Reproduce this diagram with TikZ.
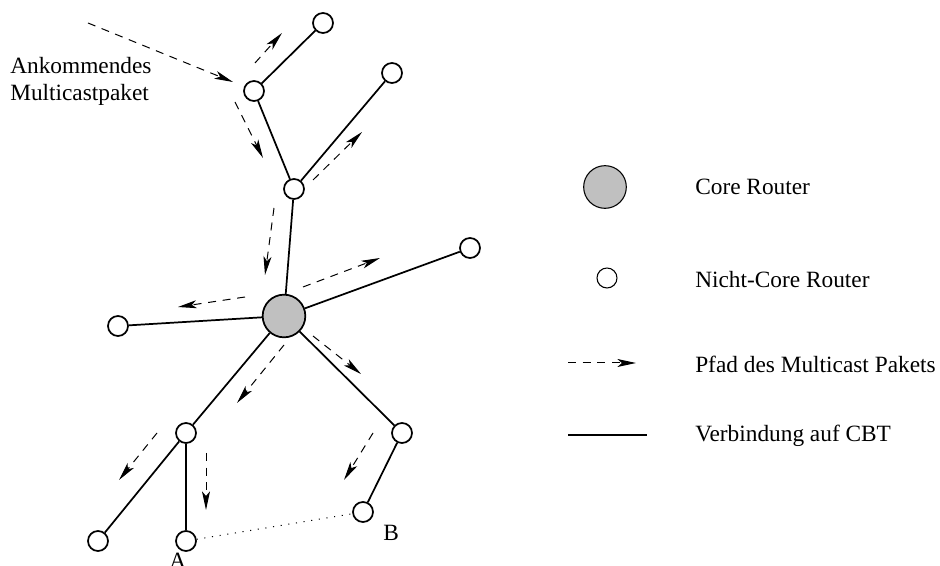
\documentclass[tikz,border=0pt]{standalone}
\usepackage{fontspec}
\setmainfont{Liberation Serif}
\usetikzlibrary{arrows.meta}
\definecolor{coregray}{RGB}{192,192,192}
\begin{document}
\begin{tikzpicture}[x=0.75pt,y=-0.75pt,
  router/.style={circle,draw,line width=1.3pt,fill=white,minimum size=15pt,inner sep=0pt},
  corerouter/.style={circle,draw,line width=1.3pt,fill=coregray,minimum size=32pt,inner sep=0pt},
  legrouter/.style={circle,draw,line width=0.8pt,inner sep=0pt},
  link/.style={line width=1.3pt},
  pkt/.style={dash pattern=on 6pt off 5pt,line width=0.75pt,-{Stealth[length=14pt,width=6pt,inset=3.5pt]}},
  weak/.style={dash pattern=on 0.8pt off 5pt,line width=0.8pt},
  lbl/.style={font=\fontsize{17.5}{21}\selectfont,anchor=base west,inner sep=0pt}
]
\useasboundingbox (0,0) rectangle (940,566);

% routers
\node[router] (n1) at (323,23) {};
\node[router] (n2) at (254,91) {};
\node[router] (n3) at (392,73) {};
\node[router] (n4) at (294,189) {};
\node[corerouter] (core) at (284,316) {};
\node[router] (r) at (470,248) {};
\node[router] (l) at (118,326) {};
\node[router] (bl) at (186,433) {};
\node[router] (br) at (402,433) {};
\node[router] (bll) at (98,541) {};
\node[router] (A) at (186,541) {};
\node[router] (B) at (363,512) {};

% CBT links
\draw[link] (n2) -- (n1);
\draw[link] (n2) -- (n4);
\draw[link] (n4) -- (n3);
\draw[link] (n4) -- (core);
\draw[link] (core) -- (l);
\draw[link] (core) -- (r);
\draw[link] (core) -- (bl);
\draw[link] (core) -- (br);
\draw[link] (bl) -- (bll);
\draw[link] (bl) -- (A);
\draw[link] (br) -- (B);
\draw[weak] (A) -- (B);

% packet path coordinates
\coordinate (p0s) at (88,23);   \coordinate (p0e) at (233,82);
\coordinate (p1s) at (255,63);  \coordinate (p1e) at (282,33);
\coordinate (p2s) at (235,102); \coordinate (p2e) at (263,158);
\coordinate (p3s) at (313,180); \coordinate (p3e) at (362,132);
\coordinate (p4s) at (274,208); \coordinate (p4e) at (265,275);
\coordinate (p5s) at (245,297); \coordinate (p5e) at (178,307);
\coordinate (p6s) at (303,287); \coordinate (p6e) at (380,258);
\coordinate (p7s) at (284,345); \coordinate (p7e) at (237,403);
\coordinate (p8s) at (313,336); \coordinate (p8e) at (361,374);
\coordinate (p9s) at (157,433); \coordinate (p9e) at (119,480);
\coordinate (p10s) at (206,453); \coordinate (p10e) at (206,510);
\coordinate (p11s) at (373,433); \coordinate (p11e) at (344,480);
\foreach \i in {0,...,11} { \draw[pkt] (p\i s) -- (p\i e); }

% labels
\node[lbl] (t1) at (10,74) {Ankommendes};
\node[lbl] (t2) at (10,101) {Multicastpaket};
\node[lbl] (tA) at (169,569) {A};
\node[lbl] (tB) at (383,541) {B};

% legend
\node[legrouter,fill=coregray,minimum size=32pt] (lg1) at (605,187) {};
\node[legrouter,minimum size=15pt] (lg2) at (607,278) {};
\coordinate (lg3s) at (568,363); \coordinate (lg3e) at (636,363);
\draw[pkt] (lg3s) -- (lg3e);
\coordinate (lg4s) at (568,435); \coordinate (lg4e) at (647,435);
\draw[link] (lg4s) -- (lg4e);
\node[lbl] (c1) at (695,195) {Core Router};
\node[lbl] (c2) at (695,288) {Nicht-Core Router};
\node[lbl] (c3) at (695,373) {Pfad des Multicast Pakets};
\node[lbl] (c4) at (695,442) {Verbindung auf CBT};
\end{tikzpicture}
\end{document}
